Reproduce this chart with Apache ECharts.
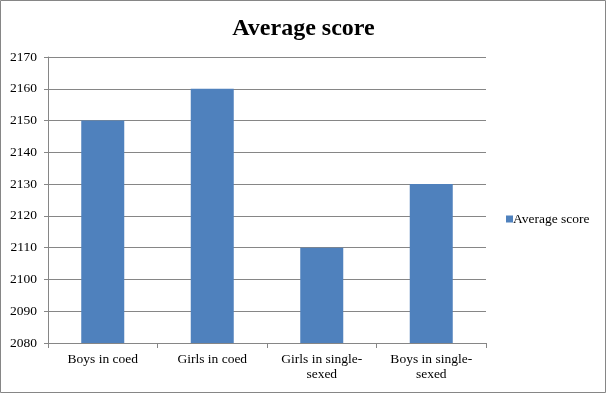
<!DOCTYPE html>
<html><head><meta charset="utf-8">
<script src="https://cdn.jsdelivr.net/npm/echarts@6/dist/echarts.min.js"></script>
<style>html,body{margin:0;padding:0;background:#fff}#c{width:607px;height:394px}</style>
</head><body><div id="c"></div>
<script>
const titleText = 'Average score';
const seriesName = 'Average score';
const categories = ['Boys in coed', 'Girls in coed', 'Girls in single-sexed', 'Boys in single-sexed'];
const values = [2150, 2160, 2110, 2130];
const yMin = 2080, yMax = 2170, yStep = 10;

const chart = echarts.init(document.getElementById('c'), null, {renderer: 'canvas'});
const font = '"Liberation Serif", "Times New Roman", serif';
chart.setOption({
  animation: false,
  textStyle: {fontFamily: font},
  title: {
    text: titleText, left: 'center', top: 12,
    textStyle: {fontFamily: font, fontSize: 24, fontWeight: 'bold', color: '#000'}
  },
  legend: {
    data: [seriesName], left: 501, top: 207, orient: 'vertical',
    itemWidth: 7, itemHeight: 7, itemGap: 2,
    icon: 'rect',
    textStyle: {fontFamily: font, fontSize: 13.5, color: '#000', padding: [0, 0, 0, -5]}
  },
  grid: {left: 48, right: 121, top: 57, bottom: 51, containLabel: false},
  xAxis: {
    type: 'category', data: categories,
    axisLine: {lineStyle: {color: '#868686', width: 1}},
    axisTick: {show: true, alignWithLabel: false, length: 5, lineStyle: {color: '#868686'}},
    axisLabel: {
      color: '#000', fontFamily: font, fontSize: 13.5, margin: 9, lineHeight: 15, interval: 0,
      formatter: v => v.replace('single-', 'single-\n')
    }
  },
  yAxis: {
    type: 'value', min: yMin, max: yMax, interval: yStep,
    axisLine: {show: true, lineStyle: {color: '#868686', width: 1}},
    axisTick: {show: true, length: 4, lineStyle: {color: '#868686'}},
    splitLine: {lineStyle: {color: '#868686', width: 1}},
    axisLabel: {color: '#000', fontFamily: font, fontSize: 13.5, margin: 11, formatter: v => String(v)}
  },
  series: [{
    name: seriesName, type: 'bar', data: values, barWidth: 43,
    itemStyle: {color: '#4F81BD'}
  }],
  graphic: [{
    type: 'rect', shape: {x: 0.5, y: 0.5, width: 605, height: 392},
    style: {fill: 'none', stroke: '#868686', lineWidth: 1}, silent: true, z: 100
  }]
});
</script></body></html>
